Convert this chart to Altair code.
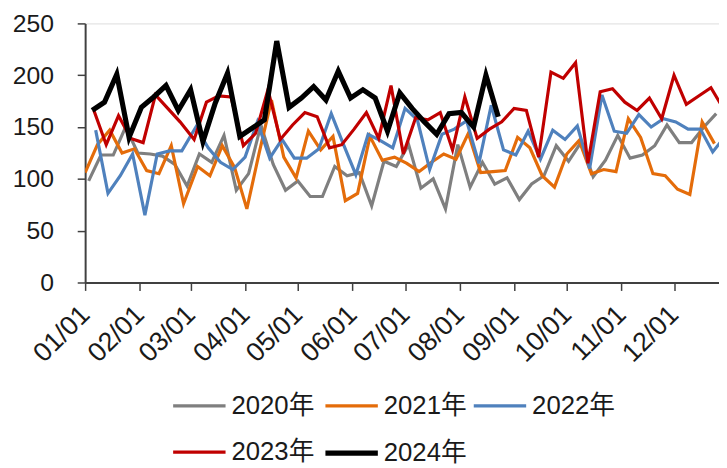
import altair as alt
import pandas as pd

years = ["2020年", "2021年", "2022年", "2023年", "2024年"]
first_fridays = ["2020-01-03", "2021-01-01", "2022-01-07", "2023-01-06", "2024-01-05"]
colors = ["#7f7f7f", "#e46c0a", "#4f81bd", "#c00000", "#000000"]
widths = [3.2, 3.2, 3.2, 3.2, 5.2]

v2020 = [98, 123, 123, 150, 125, 124, 122, 114, 93, 124, 116, 142, 89, 105, 152, 114,
         89, 98, 83, 83, 112, 103, 106, 74, 117, 112, 133, 91, 100, 71, 133, 92,
         116, 95, 101, 80, 95, 103, 132, 117, 135, 102, 118, 142, 120, 123, 132, 152,
         135, 135, 150, 163]
v2021 = [106, 133, 147, 125, 129, 108, 105, 132, 76, 112, 103, 132, 111, 71, 125, 176,
         121, 101, 146, 128, 141, 79, 86, 141, 118, 121, 115, 107, 116, 124, 119, 144,
         106, 107, 108, 140, 130, 103, 92, 124, 137, 105, 109, 107, 158, 140, 105, 103,
         90, 85, 155, 134]
v2022 = [147, 86, 103, 124, 65, 124, 127, 127, 150, 130, 116, 109, 121, 155, 120, 138,
         120, 120, 129, 163, 133, 104, 143, 137, 130, 168, 157, 109, 143, 148, 156, 115,
         171, 128, 123, 146, 119, 147, 138, 151, 110, 181, 146, 144, 162, 150, 158, 155,
         148, 148, 126, 141]
v2023 = [166, 133, 161, 139, 135, 181, 168, 155, 138, 174, 180, 179, 132, 144, 186, 138,
         152, 164, 160, 130, 133, 148, 164, 139, 190, 124, 159, 157, 164, 128, 179, 139,
         148, 155, 168, 166, 121, 203, 197, 212, 115, 184, 187, 174, 166, 178, 158, 200,
         172, 180, 188, 168]
v2024 = [166, 174, 201, 140, 169, 179, 190, 166, 186, 136, 173, 202, 141, 149, 157, 233,
         169, 178, 189, 176, 204, 178, 186, 178, 146, 183, 168, 155, 143, 163, 164, 150,
         200, 160]
series = [v2020, v2021, v2022, v2023, v2024]

tick_values = [alt.DateTime(year=2024, month=m, date=1) for m in range(1, 13)]

rows = []
for name, first, vals in zip(years, first_fridays, series):
    dates = pd.date_range(first, periods=len(vals), freq="7D")
    for d, v in zip(dates, vals):
        rows.append({"date": d.strftime("2024-%m-%dT00:00:00"), "value": v, "year": name})
df = pd.DataFrame(rows)

FONT = "Liberation Sans, Arial, 'Noto Sans CJK SC', sans-serif"

legend = alt.Legend(
    orient="none", legendX=86, legendY=358, direction="horizontal", columns=3,
    symbolType="stroke", symbolSize=2809, labelFontSize=26, labelFont=FONT,
    labelColor="#1a1a1a", columnPadding=0, rowPadding=5, labelOffset=3, title=None,
)

chart = alt.Chart(df).mark_line(clip=True).encode(
    x=alt.X(
        "date:T",
        scale=alt.Scale(domain=[alt.DateTime(year=2024, month=1, date=1),
                                alt.DateTime(year=2024, month=12, date=26, hours=14)]),
        axis=alt.Axis(values=tick_values, format="%m/%d", labelAngle=-45,
                      labelAlign="right", labelBaseline="middle", labelPadding=20,
                      labelFontSize=27, labelFont=FONT, labelColor="#1a1a1a",
                      tickSize=8, tickColor="#404040", domainColor="#404040",
                      domainWidth=2, tickWidth=1.5, grid=False, title=None,
                      labelOverlap=False),
    ),
    y=alt.Y(
        "value:Q",
        scale=alt.Scale(domain=[0, 250], nice=False, zero=True),
        axis=alt.Axis(values=[0, 50, 100, 150, 200, 250], labelFontSize=25,
                      labelFont=FONT, labelColor="#1a1a1a", labelPadding=24,
                      tickSize=8, tickColor="#404040", domainColor="#404040",
                      domainWidth=2, tickWidth=1.5, grid=False, title=None),
    ),
    color=alt.Color("year:N", scale=alt.Scale(domain=years, range=colors), legend=legend),
    strokeWidth=alt.StrokeWidth("year:N", scale=alt.Scale(type="ordinal", domain=years, range=widths), legend=legend),
    order=alt.Order("date:T"),
).properties(
    width=641, height=262,
    autosize=alt.AutoSizeParams(type="none"),
    padding={"left": 78, "top": 13, "right": 0, "bottom": 185},
).configure_view(stroke=None).configure(background="white")

chart.save("out.html", embed_options={"renderer": "svg", "actions": False})
